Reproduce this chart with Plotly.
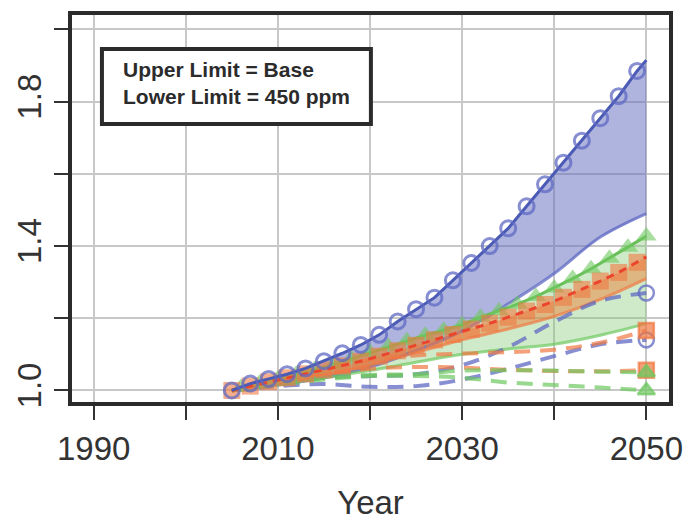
import plotly.graph_objects as go

# ---------------- data ----------------
blue_up_years = [2005, 2007, 2009, 2011, 2013, 2015, 2017, 2019, 2021, 2023, 2025, 2027,
                 2029, 2031, 2033, 2035, 2037, 2039, 2041, 2043, 2045, 2047, 2049, 2050]
blue_upper = [1.000, 1.019, 1.032, 1.045, 1.061, 1.081, 1.103, 1.126, 1.154, 1.191, 1.225, 1.257,
              1.305, 1.353, 1.400, 1.449, 1.510, 1.571, 1.631, 1.692, 1.754, 1.815, 1.885, 1.915]

green_up_years = [2005, 2006, 2008, 2010, 2012, 2014, 2016, 2018, 2020, 2022, 2024, 2026,
                  2028, 2030, 2032, 2034, 2036, 2038, 2040, 2042, 2044, 2046, 2048, 2050]
green_upper = [1.000, 1.008, 1.020, 1.032, 1.045, 1.058, 1.072, 1.088, 1.105, 1.122, 1.138, 1.153,
               1.167, 1.182, 1.203, 1.220, 1.239, 1.260, 1.284, 1.310, 1.337, 1.366, 1.397, 1.428]

orange_up_years = blue_up_years
orange_upper = [1.000, 1.012, 1.024, 1.035, 1.046, 1.057, 1.068, 1.081, 1.095, 1.110, 1.125, 1.140,
                1.155, 1.170, 1.186, 1.203, 1.220, 1.238, 1.258, 1.280, 1.303, 1.327, 1.355, 1.370]

low_years = [2005, 2010, 2015, 2020, 2025, 2030, 2035, 2040, 2045, 2050]
blue_lower = [1.000, 1.015, 1.035, 1.065, 1.110, 1.165, 1.240, 1.324, 1.425, 1.490]
green_lower = [1.000, 1.015, 1.035, 1.055, 1.078, 1.100, 1.115, 1.128, 1.153, 1.185]
orange_lower = [1.000, 1.020, 1.043, 1.070, 1.105, 1.140, 1.170, 1.205, 1.252, 1.310]

# dashed (alternative scenario) series
blue_dash_a = [1.000, 1.020, 1.035, 1.040, 1.045, 1.070, 1.120, 1.190, 1.248, 1.270]
blue_dash_b = [1.000, 1.012, 1.018, 1.010, 1.012, 1.030, 1.060, 1.095, 1.128, 1.140]
orange_dash_a = [1.000, 1.030, 1.060, 1.085, 1.097, 1.102, 1.106, 1.113, 1.132, 1.166]
orange_dash_b = [1.000, 1.025, 1.045, 1.060, 1.065, 1.063, 1.057, 1.054, 1.053, 1.056]
green_dash_a = [1.000, 1.020, 1.035, 1.043, 1.045, 1.055, 1.056, 1.055, 1.052, 1.050]
green_dash_b = [1.000, 1.015, 1.030, 1.040, 1.040, 1.035, 1.022, 1.015, 1.008, 1.000]

x_tick_vals = [1990, 2000, 2010, 2020, 2030, 2040, 2050]
x_tick_text = ["1990", "", "2010", "", "2030", "", "2050"]
y_tick_vals = [1.0, 1.2, 1.4, 1.6, 1.8, 2.0]
y_tick_text = ["1.0", "", "1.4", "", "1.8", ""]

legend_lines = ["Upper Limit = Base", "Lower Limit = 450 ppm"]

# ---------------- styles ----------------
BLUE = "rgb(75,90,180)"
BLUE_T = "rgba(95,105,195,0.75)"
BLUE_FILL = "rgba(95,105,190,0.5)"
GREEN = "rgb(105,190,90)"
GREEN_T = "rgba(110,200,95,0.7)"
GREEN_FILL = "rgba(130,200,110,0.38)"
RED = "rgb(235,70,45)"
ORANGE_T = "rgba(240,120,65,0.7)"
ORANGE_FILL = "rgba(235,130,60,0.5)"
FONT = "Liberation Sans, Arial, sans-serif"

fig = go.Figure()


def band(xu, yu, xl, yl, color):
    fig.add_trace(go.Scatter(x=list(xu) + list(xl)[::-1], y=list(yu) + list(yl)[::-1],
                             fill="toself", fillcolor=color, mode="none",
                             hoverinfo="skip", showlegend=False))


band(blue_up_years, blue_upper, low_years, blue_lower, BLUE_FILL)
band(green_up_years, green_upper, low_years, green_lower, GREEN_FILL)
band(orange_up_years, orange_upper, low_years, orange_lower, ORANGE_FILL)

# lower limit lines
for yl, col in [(blue_lower, BLUE_T), (green_lower, GREEN_T), (orange_lower, ORANGE_T)]:
    fig.add_trace(go.Scatter(x=low_years, y=yl, mode="lines",
                             line=dict(color=col, width=3, shape="spline"),
                             showlegend=False))

# dashed scenario lines with end markers
dash_specs = [
    (blue_dash_a, BLUE_T, "circle-open"),
    (blue_dash_b, BLUE_T, "circle-open"),
    (orange_dash_a, ORANGE_T, "square"),
    (orange_dash_b, ORANGE_T, "square"),
    (green_dash_a, GREEN_T, "triangle-up"),
    (green_dash_b, GREEN_T, "triangle-up"),
]
for ys, col, sym in dash_specs:
    fig.add_trace(go.Scatter(x=low_years, y=ys, mode="lines",
                             line=dict(color=col, width=4, dash="16px,10px", shape="spline"),
                             showlegend=False))
    fig.add_trace(go.Scatter(x=low_years[-1:], y=ys[-1:], mode="markers",
                             marker=dict(symbol=sym, size=15, color=col,
                                         line=dict(color=col, width=2.5)),
                             showlegend=False))

# upper limit lines
fig.add_trace(go.Scatter(x=green_up_years, y=green_upper, mode="lines",
                         line=dict(color=GREEN, width=3), showlegend=False))
fig.add_trace(go.Scatter(x=green_up_years[1:], y=green_upper[1:], mode="markers",
                         marker=dict(symbol="triangle-up", size=18, color="rgba(110,200,95,0.6)",
                                     line=dict(width=0)), showlegend=False))

fig.add_trace(go.Scatter(x=orange_up_years[:-1], y=orange_upper[:-1], mode="markers",
                         marker=dict(symbol="square", size=17, color="rgba(240,120,65,0.6)",
                                     line=dict(width=0)), showlegend=False))
fig.add_trace(go.Scatter(x=orange_up_years, y=orange_upper, mode="lines",
                         line=dict(color=RED, width=3, dash="8px,6px"), showlegend=False))

fig.add_trace(go.Scatter(x=blue_up_years, y=blue_upper, mode="lines",
                         line=dict(color=BLUE, width=3), showlegend=False))
fig.add_trace(go.Scatter(x=blue_up_years[:-1], y=blue_upper[:-1], mode="markers",
                         marker=dict(symbol="circle-open", size=15, color=BLUE_T,
                                     line=dict(color=BLUE_T, width=3)), showlegend=False))

# legend box
fig.add_shape(type="rect", xref="x", yref="y", x0=1990.9, x1=2020.1, y0=1.738, y1=1.946,
              line=dict(color="#2b2b2b", width=4), fillcolor="white", layer="above")
for i, txt in enumerate(legend_lines):
    fig.add_annotation(x=1993.0, y=[1.888, 1.813][i], xref="x", yref="y", text="<b>" + txt + "</b>",
                       showarrow=False, xanchor="left", yanchor="middle",
                       font=dict(family=FONT, size=21, color="#2b2b2b"))

axis_common = dict(showgrid=True, gridcolor="#c8c8c8", gridwidth=2,
                   showline=True, linecolor="#2b2b2b", linewidth=4, mirror=True,
                   ticks="outside", ticklen=14, tickwidth=2, tickcolor="#333",
                   tickfont=dict(family=FONT, size=33, color="#333"),
                   zeroline=False)

fig.update_xaxes(range=[1987.65, 2052.46], tickvals=x_tick_vals, ticktext=x_tick_text,
                 title=dict(text="Year", font=dict(family=FONT, size=33, color="#333"), standoff=26),
                 **axis_common)
fig.update_yaxes(range=[0.968, 2.040], tickvals=y_tick_vals, ticktext=y_tick_text,
                 tickangle=-90, **axis_common)

fig.update_layout(width=694, height=527, margin=dict(l=72, r=16, t=11, b=116),
                  plot_bgcolor="white", paper_bgcolor="white", showlegend=False)

fig.write_html("out.html")
